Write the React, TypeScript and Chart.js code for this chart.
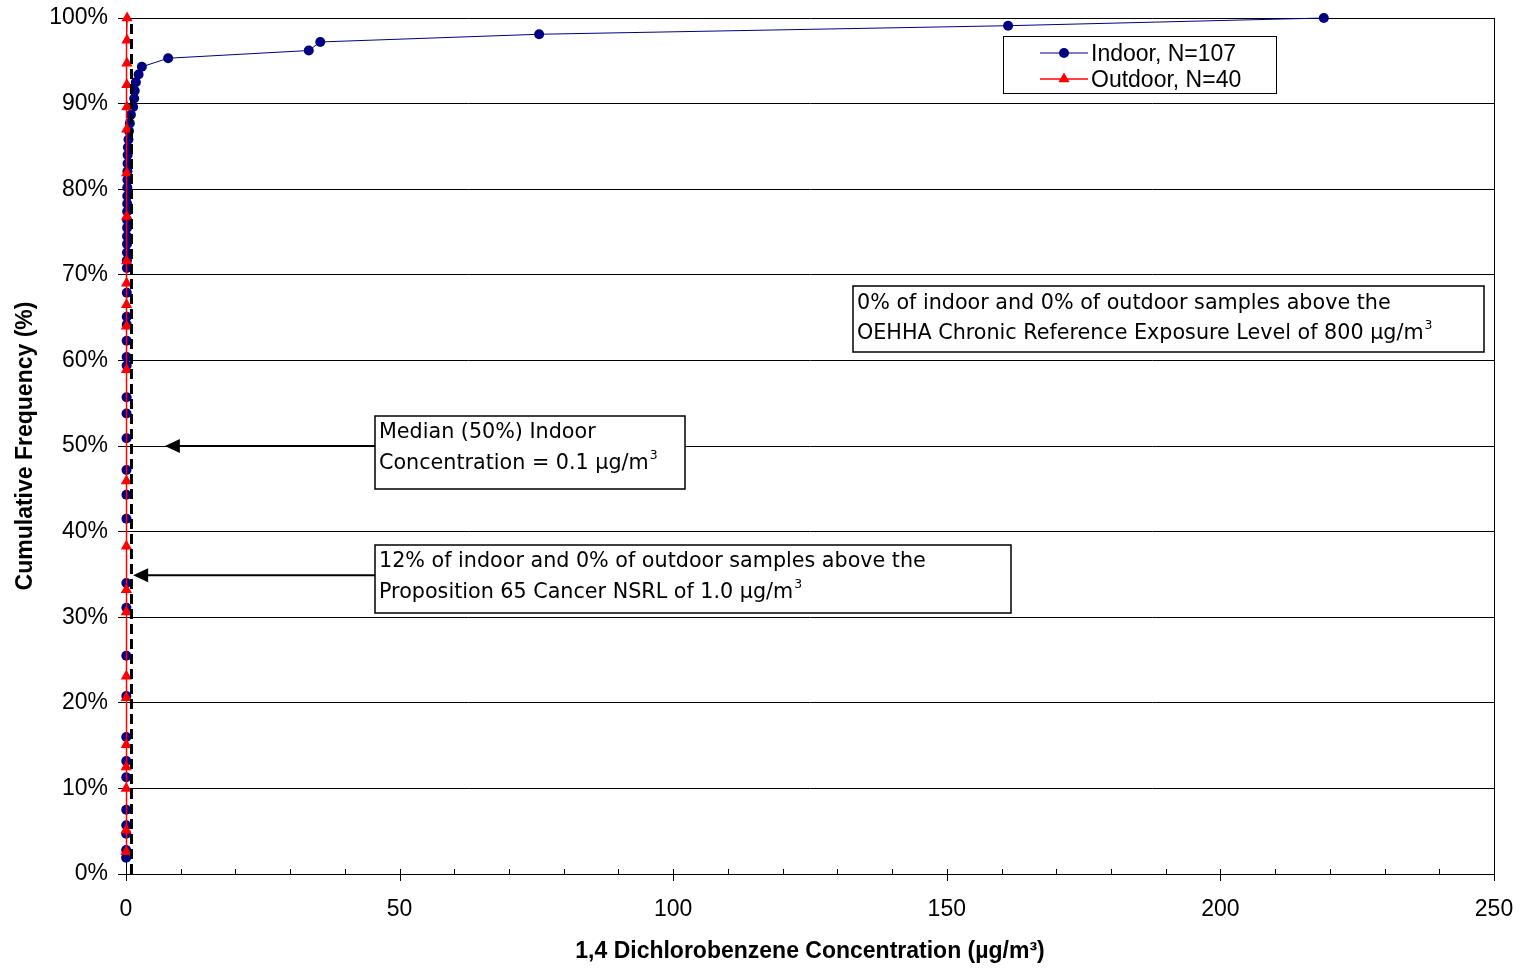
import { useEffect, useRef } from 'react';
import { Chart, registerables } from 'chart.js';

Chart.register(...registerables);

// ---------- data ----------
const indoorConc = [
  0.02, 0.03, 0.03, 0.04, 0.04, 0.05, 0.05, 0.05, 0.06, 0.06, 0.07, 0.07, 0.08, 0.08, 0.09,
  0.1, 0.1, 0.11, 0.12, 0.12, 0.13, 0.14, 0.14, 0.15, 0.16, 0.17, 0.18, 0.18, 0.19, 0.2,
  0.2, 0.21, 0.22, 0.23, 0.24, 0.25, 0.26, 0.28, 0.3, 0.35, 0.45, 0.55, 0.7, 0.9, 1.3,
  1.5, 1.6, 1.8, 2.3, 2.9, 7.7, 33.4, 35.5, 75.5, 161.2, 218.9,
];
const indoorPct = [
  1.9, 2.8, 4.7, 5.7, 7.5, 11.3, 13.2, 16.0, 20.8, 25.5, 31.1, 34.0, 41.5, 44.3, 47.2,
  50.9, 53.8, 55.7, 59.4, 60.4, 62.3, 64.2, 65.1, 67.9, 70.8, 71.7, 72.6, 73.6, 74.5, 75.5,
  76.4, 77.4, 78.3, 79.2, 80.2, 81.1, 82.1, 83.0, 84.0, 84.9, 85.8, 86.8, 87.7, 88.7, 89.6,
  90.6, 91.5, 92.5, 93.4, 94.3, 95.3, 96.2, 97.2, 98.1, 99.1, 100,
];
const outdoorConc = [
  0.02, 0.03, 0.04, 0.04, 0.05, 0.05, 0.06, 0.06, 0.07, 0.07, 0.08, 0.09,
  0.1, 0.1, 0.11, 0.11, 0.12, 0.13, 0.14, 0.15, 0.16, 0.17, 0.18, 0.2,
];
const outdoorPct = [
  2.6, 5.1, 10.0, 12.5, 15.1, 20.6, 23.1, 30.6, 33.2, 38.3, 45.9, 58.9,
  64.0, 66.5, 69.0, 71.6, 76.8, 81.9, 87.0, 89.6, 92.2, 94.7, 97.4, 100,
];
const nsrlConc = [1.0, 1.0];
const nsrlPct = [0, 100];

const seriesLabels = ['Indoor, N=107', 'Outdoor, N=40'];
const xTitle = '1,4 Dichlorobenzene Concentration (µg/m³)';
const yTitle = 'Cumulative Frequency (%)';

// annotation boxes: [xLeft, xRight, pctTop, pctBottom] in data units
const oehhaBox = [132.9, 248.2, 68.7, 61.0];
const oehhaLines = [[['0% of indoor and 0% of outdoor samples above the', false]], [['OEHHA Chronic Reference Exposure Level of 800 µg/m', false], ['3', true]]];
const medianBox = [45.5, 102.2, 53.5, 45.0];
const medianLines = [[['Median (50%) Indoor', false]], [['Concentration = 0.1 µg/m', false], ['3', true]]];
const medianArrow = [7.1, 50.0];
const nsrlBox = [45.5, 161.7, 38.4, 30.5];
const nsrlLines = [[['12% of indoor and 0% of outdoor samples above the', false]], [['Proposition 65 Cancer NSRL of 1.0 µg/m', false], ['3', true]]];
const nsrlArrow = [1.3, 34.9];

const NAVY = '#000080';
const RED = '#ff0000';
const SANS = '"Liberation Sans", Arial, sans-serif';
const NOTE_FONT = '"DejaVu Sans", Verdana, sans-serif';
const NOTE_SIZE = 20.7;

// plot-area frame (pixels)
const AREA = { left: 126, top: 18, right: 1494, bottom: 874 };

function drawTriangle(ctx: CanvasRenderingContext2D, x: number, y: number, r: number) {
  let rad = 0;
  ctx.beginPath();
  ctx.moveTo(x + Math.sin(rad) * r, y - Math.cos(rad) * r);
  rad += (2 * Math.PI) / 3;
  ctx.lineTo(x + Math.sin(rad) * r, y - Math.cos(rad) * r);
  rad += (2 * Math.PI) / 3;
  ctx.lineTo(x + Math.sin(rad) * r, y - Math.cos(rad) * r);
  ctx.closePath();
  ctx.fill();
}

function drawRich(ctx: CanvasRenderingContext2D, x: number, y: number, segs: any[]) {
  let cx = x;
  for (const [t, sup] of segs) {
    if (sup) {
      ctx.font = `${NOTE_SIZE * 0.6}px ${NOTE_FONT}`;
      ctx.fillText(t, cx + 1, y - 8);
      cx += ctx.measureText(t).width + 1;
    } else {
      ctx.font = `${NOTE_SIZE}px ${NOTE_FONT}`;
      ctx.fillText(t, cx, y);
      cx += ctx.measureText(t).width;
    }
  }
}

function drawNote(chart: any, box: number[], lines: any[], firstOffset: number, spacing: number) {
  const { ctx, scales } = chart;
  const xs = scales.x;
  const ys = scales.y;
  const l = Math.round(xs.getPixelForValue(box[0]));
  const r = Math.round(xs.getPixelForValue(box[1]));
  const t = Math.round(ys.getPixelForValue(box[2]));
  const b = Math.round(ys.getPixelForValue(box[3]));
  ctx.save();
  ctx.fillStyle = '#fff';
  ctx.fillRect(l, t, r - l, b - t);
  ctx.strokeStyle = '#000';
  ctx.lineWidth = 1.5;
  ctx.strokeRect(l, t, r - l, b - t);
  ctx.fillStyle = '#000';
  ctx.textBaseline = 'middle';
  ctx.textAlign = 'left';
  lines.forEach((segs: any[], i: number) => {
    drawRich(ctx, l + 4, t + firstOffset + i * spacing, segs);
  });
  ctx.restore();
}

function drawArrow(chart: any, box: number[], tip: number[]) {
  const { ctx, scales } = chart;
  const x0 = scales.x.getPixelForValue(box[0]);
  const tx = scales.x.getPixelForValue(tip[0]);
  const ty = scales.y.getPixelForValue(tip[1]);
  ctx.save();
  ctx.strokeStyle = '#000';
  ctx.fillStyle = '#000';
  ctx.lineWidth = 2;
  ctx.beginPath();
  ctx.moveTo(x0, ty);
  ctx.lineTo(tx + 12, ty);
  ctx.stroke();
  ctx.beginPath();
  ctx.moveTo(tx, ty);
  ctx.lineTo(tx + 15, ty - 7);
  ctx.lineTo(tx + 15, ty + 7);
  ctx.closePath();
  ctx.fill();
  ctx.restore();
}

const framePlugin = {
  id: 'frame',
  afterLayout(chart: any) {
    const { left, top, right, bottom } = AREA;
    const H = chart.height;
    const x = chart.scales.x;
    const y = chart.scales.y;
    Object.assign(chart.chartArea, { left, top, right, bottom, width: right - left, height: bottom - top });
    Object.assign(x, { left, right, width: right - left, top: bottom, bottom: H, height: H - bottom });
    Object.assign(y, { left: 0, right: left, width: left, top, bottom, height: bottom - top });
    x.configure();
    y.configure();
  },
};

const overlayPlugin = {
  id: 'overlay',
  afterDraw(chart: any) {
    const { ctx, chartArea, scales } = chart;
    const xs = scales.x;
    ctx.save();
    ctx.strokeStyle = '#000';
    ctx.lineWidth = 1;
    // right border
    ctx.beginPath();
    ctx.moveTo(Math.round(chartArea.right) + 0.5, chartArea.top);
    ctx.lineTo(Math.round(chartArea.right) + 0.5, chartArea.bottom);
    ctx.stroke();
    // x ticks (major crossing, minor inside)
    const yb = Math.round(chartArea.bottom);
    for (let v = 0; v <= 250; v += 10) {
      const px = Math.round(xs.getPixelForValue(v)) + 0.5;
      ctx.beginPath();
      ctx.moveTo(px, yb - 5);
      ctx.lineTo(px, v % 50 === 0 ? yb + 7 : yb);
      ctx.stroke();
    }
    ctx.restore();

    drawArrow(chart, medianBox, medianArrow);
    drawArrow(chart, nsrlBox, nsrlArrow);
    drawNote(chart, oehhaBox, oehhaLines, 18, 30);
    drawNote(chart, medianBox, medianLines, 17, 31);
    drawNote(chart, nsrlBox, nsrlLines, 17, 31);

    // legend
    const lx = Math.round(chartArea.right) - 491;
    const ly = Math.round(chartArea.top) + 18;
    ctx.save();
    ctx.fillStyle = '#fff';
    ctx.fillRect(lx, ly, 273, 57);
    ctx.strokeStyle = '#000';
    ctx.lineWidth = 1;
    ctx.strokeRect(lx + 0.5, ly + 0.5, 273, 57);
    ctx.textBaseline = 'middle';
    ctx.textAlign = 'left';
    ctx.font = `23px ${SANS}`;
    const colors = [NAVY, RED];
    seriesLabels.forEach((lab, i) => {
      const yy = ly + 17 + i * 26;
      ctx.strokeStyle = colors[i];
      ctx.lineWidth = i === 0 ? 1 : 1.5;
      ctx.beginPath();
      ctx.moveTo(lx + 37, yy);
      ctx.lineTo(lx + 85, yy);
      ctx.stroke();
      ctx.fillStyle = colors[i];
      if (i === 0) {
        ctx.beginPath();
        ctx.arc(lx + 61, yy, 5, 0, Math.PI * 2);
        ctx.fill();
      } else {
        drawTriangle(ctx, lx + 61, yy, 6.5);
      }
      ctx.fillStyle = '#000';
      ctx.fillText(lab, lx + 88, yy + 2);
    });
    ctx.restore();
  },
};

function toPoints(xs: number[], ys: number[]) {
  return xs.map((x, i) => ({ x, y: ys[i] }));
}

export default function App() {
  const ref = useRef<HTMLCanvasElement>(null);
  useEffect(() => {
    Chart.defaults.color = '#000';
    const chart = new Chart(ref.current as HTMLCanvasElement, {
      type: 'line',
      data: {
        datasets: [
          {
            label: 'NSRL 1.0',
            data: toPoints(nsrlConc, nsrlPct),
            borderColor: '#000',
            borderWidth: 3,
            borderDash: [10, 5],
            pointRadius: 0,
            clip: false,
          } as any,
          {
            label: seriesLabels[1],
            data: toPoints(outdoorConc, outdoorPct),
            borderColor: RED,
            backgroundColor: RED,
            borderWidth: 1.5,
            pointStyle: 'triangle',
            pointRadius: 6.5,
            pointBorderWidth: 0,
            clip: false,
          },
          {
            label: seriesLabels[0],
            data: toPoints(indoorConc, indoorPct),
            borderColor: NAVY,
            backgroundColor: NAVY,
            borderWidth: 1,
            pointStyle: 'circle',
            pointRadius: 5,
            pointBorderWidth: 0,
            clip: false,
          },
        ],
      },
      options: {
        responsive: false,
        animation: false,
        devicePixelRatio: 1,
        layout: { padding: { top: 18, right: 27, left: 0, bottom: 0 } },
        plugins: { legend: { display: false }, tooltip: { enabled: false } },
        elements: { line: { tension: 0 } },
        scales: {
          x: {
            type: 'linear',
            min: 0,
            max: 250,
            ticks: { stepSize: 50, padding: 22, font: { family: SANS, size: 23 }, color: '#000' },
            grid: { drawOnChartArea: false, drawTicks: false },
            border: { display: true, color: '#000', width: 1 },
            title: {
              display: true,
              text: xTitle,
              font: { family: SANS, size: 23, weight: 'bold' },
              color: '#000',
              padding: { top: 0, bottom: 4 },
            },
          },
          y: {
            type: 'linear',
            min: 0,
            max: 100,
            ticks: {
              stepSize: 10,
              padding: 10,
              font: { family: SANS, size: 23 },
              color: '#000',
              callback: (v: any) => `${v}%`,
            },
            grid: { color: '#000', lineWidth: 1, tickLength: 8, drawTicks: true },
            border: { display: true, color: '#000', width: 1 },
            title: {
              display: true,
              text: yTitle,
              font: { family: SANS, size: 23, weight: 'bold' },
              color: '#000',
              padding: { top: 12, bottom: 0 },
            },
          },
        },
      },
      plugins: [framePlugin, overlayPlugin],
    } as any);
    return () => chart.destroy();
  }, []);
  return (
    <div style={{ position: 'fixed', left: 0, top: 0, width: 1521, height: 969, background: '#fff' }}>
      <canvas ref={ref} width={1521} height={969} style={{ display: 'block', width: 1521, height: 969 }} />
    </div>
  );
}
